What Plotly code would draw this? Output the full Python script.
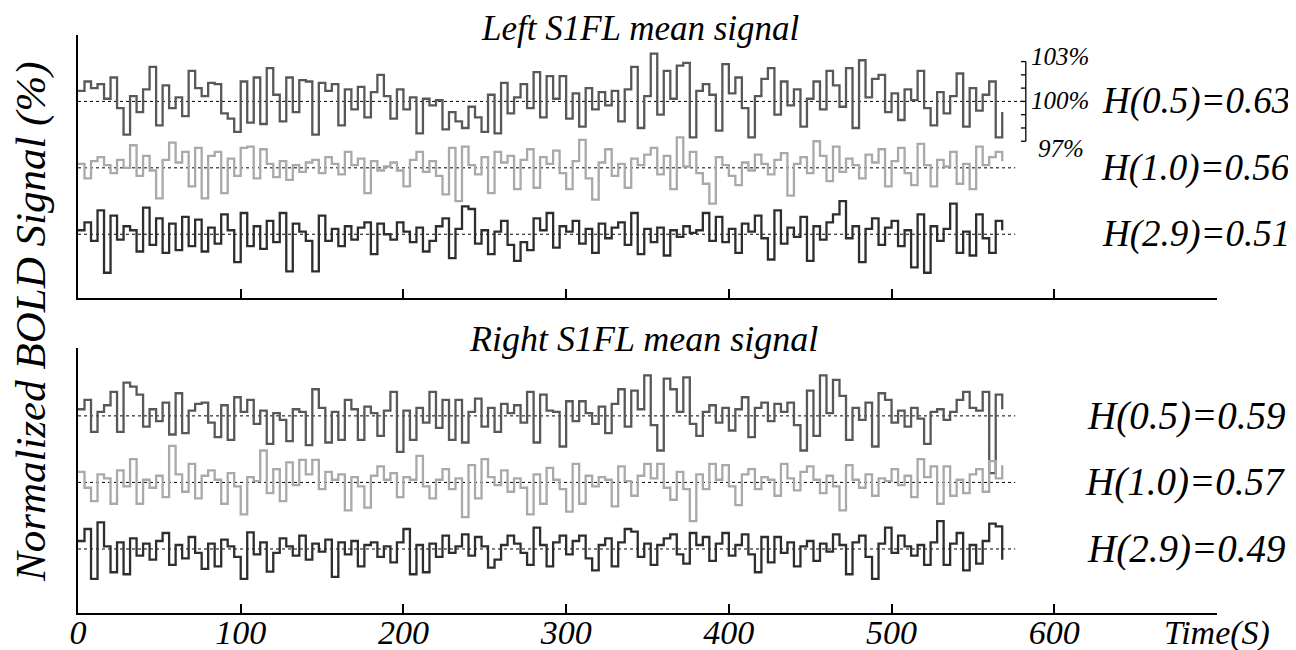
import plotly.graph_objects as go

# ---------------- data (percent deviation from 100%) ----------------
TIME_STEP = 4  # seconds between samples (approximate reading resolution)

left_h05 = [0.8,1.5,1.0,1.3,0.2,1.8,-0.5,-2.5,0.4,-0.8,0.9,2.6,-1.8,1.2,-0.5,0.3,-1.1,2.3,1.0,0.4,
            1.4,1.3,-0.9,-1.3,-2.3,1.5,-1.6,1.8,-1.7,2.5,0.5,-1.5,1.8,-0.8,1.6,1.5,-2.5,1.4,0.8,1.3,
            -1.8,0.9,-0.6,1.1,-1.2,0.7,2.0,0.4,
            -1.3,0.9,-0.6,0.3,-2.4,0.2,-0.3,0.1,-2.1,-0.8,-1.5,-2.0,-0.4,-1.2,-2.3,0.5,-2.4,1.4,-0.9,0.3,
            1.3,-0.5,2.2,-1.2,1.9,0.2,1.9,-1.3,0.6,-1.9,1.0,-0.6,0.7,-0.3,0.8,-1.5,0.9,2.6,-2.0,0.4,
            3.6,-1.0,2.3,0.2,2.7,2.9,-2.7,0.8,
            1.3,0.5,-2.2,2.8,0.6,1.8,-0.5,-2.7,0.4,1.7,2.5,-1.0,1.5,-0.3,0.9,-1.9,0.2,1.5,-0.6,2.3,
            1.2,-0.4,2.5,-2.0,3.1,0.3,1.7,2.0,-0.8,0.6,-1.4,0.9,0.1,2.3,-0.5,-1.8,0.7,-0.9,0.4,2.1,
            -1.9,1.0,-0.7,0.5,1.5,-2.7,-0.8]
left_h10 = [0.3,-0.8,0.5,0.8,0.2,-0.4,0.6,0.0,1.7,-0.6,0.9,-0.2,-2.3,0.6,1.9,0.4,1.2,-1.4,1.5,-2.3,
            0.9,1.2,-1.9,0.7,-0.6,1.5,1.6,-0.8,1.4,0.3,-0.7,0.5,-0.9,0.2,-0.3,0.4,0.6,-0.4,0.8,0.3,
            -0.5,1.2,0.2,0.7,-1.9,0.5,-0.2,0.1,
            0.4,-0.2,-1.4,0.6,1.2,-0.3,0.5,-0.6,-2.0,1.5,-2.5,1.6,0.2,-0.5,0.8,-1.9,1.2,0.4,0.9,-1.6,
            0.6,1.4,-1.5,0.8,0.3,1.3,-0.4,-1.6,0.5,2.1,-0.8,-2.4,0.4,1.4,-0.6,0.3,-1.5,0.7,0.2,1.0,
            1.5,-0.5,0.9,-1.6,2.3,0.1,1.2,-0.4,
            -1.2,-2.7,0.8,0.2,-0.6,-1.3,0.4,-0.2,1.0,0.3,-0.5,0.6,1.1,-2.1,0.3,0.8,-0.4,2.0,0.9,-1.0,
            1.6,-0.3,0.7,0.2,-0.8,1.0,0.4,1.4,-1.4,0.5,1.5,-0.4,-1.3,1.8,0.2,-1.4,0.6,0.1,1.2,-1.2,
            0.3,-1.6,1.6,0.2,0.8,1.2,0.5]
left_h29 = [0.3,0.9,-0.5,1.8,-2.9,1.4,-0.4,0.6,0.3,-1.3,2.0,-0.8,1.2,-1.4,0.8,-1.2,1.3,-0.9,1.1,-1.3,
            0.5,-0.7,1.5,0.3,-2.1,1.6,-0.9,0.6,-1.1,1.0,-0.6,1.6,-2.8,0.8,0.2,-0.5,-2.8,1.4,-0.5,0.4,
            -0.9,0.6,-0.4,0.5,0.9,-1.5,0.8,0.0,
            -0.4,0.9,0.2,-0.6,0.5,-1.3,-0.5,0.6,1.2,-1.8,0.4,2.1,1.9,-0.7,0.3,-1.5,0.2,1.0,-0.8,-2.0,
            -0.6,-1.2,1.2,0.3,1.6,-1.0,0.6,0.2,1.0,-0.7,0.4,-1.4,0.8,-0.3,0.5,0.9,-0.8,1.6,-1.5,0.4,
            -0.6,0.5,-1.6,0.3,-0.2,0.6,0.1,0.3,
            1.6,-0.5,1.3,-0.6,0.4,-1.4,0.8,0.2,1.4,-0.3,-1.9,1.8,-0.7,0.5,-0.2,1.3,-2.0,0.6,-0.4,0.9,
            1.5,2.5,-0.3,0.6,-2.1,0.4,1.2,-0.8,0.5,1.0,-0.9,0.3,-2.5,1.5,-2.9,0.6,-0.5,0.4,2.3,-1.4,
            0.2,-1.6,1.5,-0.3,-1.4,1.0,0.3]

right_h05 = [0.5,1.2,-1.2,0.3,0.8,1.8,-1.2,2.5,2.2,1.6,-0.8,0.5,-0.4,1.0,-1.4,1.7,-1.3,0.4,0.9,1.0,
             -0.5,-1.6,0.8,-1.8,1.4,0.3,1.2,-0.6,0.4,-2.1,0.2,-0.3,-1.9,0.5,0.3,-2.2,2.0,0.6,-2.0,0.3,
             -1.8,1.2,0.5,-1.8,0.7,0.2,-1.5,0.4,
             1.8,-2.7,0.4,-1.8,0.6,-0.5,1.8,-0.9,1.2,-1.8,1.2,-2.0,0.3,1.3,-0.8,0.6,-1.2,0.9,0.2,0.8,
             -0.5,1.8,-2.0,1.6,0.4,0.3,-2.3,1.1,-0.4,1.1,0.2,-0.6,0.7,-1.3,0.9,2.0,-0.8,1.9,0.5,3.05,
             -0.7,-2.6,2.8,2.0,0.3,2.9,-0.6,-1.5,
             0.3,0.8,-0.5,0.6,-1.1,0.5,1.4,-1.6,0.6,1.0,-0.4,0.9,0.3,1.0,-0.7,-2.6,1.9,-1.5,3.05,0.2,
             2.7,1.5,-1.8,0.6,-0.3,1.0,-2.3,1.7,1.2,-0.5,0.4,-0.8,0.6,-0.2,-2.1,0.3,0.5,-0.3,0.3,1.2,
             1.8,0.6,0.4,1.8,-4.3,1.6,0.5]
right_h10 = [0.8,-0.4,-1.4,0.6,0.3,-1.6,0.9,-0.3,1.75,-1.6,0.2,-0.4,0.5,-1.1,2.75,0.6,-0.7,1.4,-1.2,0.5,
             0.9,0.2,-1.6,0.7,-0.3,-2.4,0.4,0.1,2.4,-0.8,1.0,-1.4,1.5,-0.2,1.7,0.6,1.7,-0.5,0.8,0.2,
             0.6,-2.1,0.4,-0.3,-1.9,0.5,1.2,0.2,
             0.7,-1.1,0.4,0.2,2.0,-0.3,-1.2,0.2,1.0,-0.5,0.3,-2.6,1.3,-1.2,1.75,0.4,-0.2,0.9,-0.7,0.3,
             -0.4,-2.4,0.6,-1.6,1.1,0.2,-0.5,-2.2,1.4,-1.6,0.5,-0.3,0.4,0.2,-1.8,1.2,0.1,-1.0,0.5,1.4,
             0.3,1.4,-0.4,-1.3,0.8,-0.5,-2.9,0.6,
             -0.5,1.4,0.2,1.3,-0.3,-1.7,0.6,1.0,-0.5,0.4,0.2,-1.0,1.4,0.3,-0.6,0.8,1.2,0.2,-0.8,0.5,
             -0.3,-2.1,1.3,0.2,-0.4,0.6,-1.0,0.3,0.1,1.0,-0.2,0.5,-1.1,1.75,0.4,1.2,-1.6,1.2,-1.0,0.2,
             -0.8,0.6,1.0,-0.7,1.6,0.3,1.3]
right_h29 = [0.6,1.5,-2.25,2.0,0.2,-1.75,0.5,-1.9,0.8,-0.5,0.4,-0.8,0.6,1.2,-1.2,0.3,-0.7,0.9,-0.3,-1.5,
             0.4,-1.3,0.7,0.2,-0.6,-2.25,1.25,-0.4,0.5,-1.7,-0.3,0.8,0.2,-0.5,1.0,-0.8,0.4,-0.2,0.7,-2.1,
             0.5,-0.4,0.6,-1.3,0.3,0.5,-0.6,0.2,
             -1.0,0.5,1.5,-1.9,0.3,-1.75,0.4,-0.6,1.0,-0.3,0.2,1.1,-0.5,0.9,0.2,-1.4,-0.8,0.3,1.0,0.4,
             -0.3,-1.2,1.6,0.3,-1.3,0.5,1.0,-0.4,0.6,1.0,-0.7,-1.6,0.3,0.8,-1.3,0.5,1.5,1.3,-0.6,0.4,
             -1.2,0.3,0.8,1.1,-0.4,-1.1,1.2,0.3,
             0.9,-0.9,0.4,1.2,-0.5,0.3,1.1,-0.4,-1.75,0.9,-1.0,0.9,-0.3,0.5,-1.3,0.2,0.6,-0.9,0.4,-0.2,
             1.1,0.3,-1.9,0.5,1.0,-0.6,-2.25,0.4,1.6,-0.3,1.0,0.2,-0.5,0.3,-1.2,0.5,2.1,-1.2,0.4,1.2,
             -1.6,0.3,-1.1,0.6,1.9,1.7,-0.8]

series_names = ["H(0.5)", "H(1.0)", "H(2.9)"]
left_hurst = ["0.63", "0.56", "0.51"]
right_hurst = ["0.59", "0.57", "0.49"]
panel_titles = ["Left S1FL mean signal", "Right S1FL mean signal"]
x_tick_values = [0, 100, 200, 300, 400, 500, 600, 700]
x_tick_labels = ["0", "100", "200", "300", "400", "500", "600", "Time(S)"]
scale_labels = ["103%", "100%", "97%"]

# ---------------- styling ----------------
W, H = 1296, 650
OFF = 8                        # page body margin
FW, FH = W - OFF, H - OFF      # figure size
COLORS = ["#585858", "#a9a9a9", "#2e2e2e"]
OFFSETS = [10, 5, 0]          # vertical offsets (in %) of the three traces
FONT = "Liberation Serif"

def px_x(p):
    return (p - OFF) / FW

def px_y(p):
    return 1 - (p - OFF) / FH

fig = go.Figure()

panels = [
    ("x", "y", [left_h05, left_h10, left_h29]),
    ("x2", "y2", [right_h05, right_h10, right_h29]),
]

for pi, (xa, ya, data) in enumerate(panels):
    for si, vals in enumerate(data):
        times = [i * TIME_STEP for i in range(len(vals))]
        end = 582 if (pi == 0 and si == 0) else 576
        fig.add_trace(go.Scatter(
            x=[0, end], y=[OFFSETS[si], OFFSETS[si]], mode="lines",
            line=dict(color="black", width=1, dash="dot"),
            xaxis=xa, yaxis=ya, showlegend=False, hoverinfo="skip"))
        fig.add_trace(go.Scatter(
            x=times, y=[v + OFFSETS[si] for v in vals], mode="lines",
            line=dict(color=COLORS[si], width=2.3, shape="hv"),
            xaxis=xa, yaxis=ya, showlegend=False, name=series_names[si]))

# scale bar (103% .. 97%) next to the top trace of the left panel
bar_x = 582.5
tick_len = 3.0
bx, by = [bar_x, bar_x], [OFFSETS[0] + 3, OFFSETS[0] - 3]
for d in range(-3, 4):
    bx += [None, bar_x - tick_len, bar_x]
    by += [None, OFFSETS[0] + d, OFFSETS[0] + d]
fig.add_trace(go.Scatter(x=bx, y=by, mode="lines", line=dict(color="black", width=1.3),
                         xaxis="x", yaxis="y", showlegend=False, hoverinfo="skip"))

axis_common = dict(showgrid=False, zeroline=False, showline=True, linecolor="black",
                   linewidth=2, ticks="inside", tickcolor="black", tickwidth=2,
                   automargin=False)

x_dom = [px_x(78), px_x(1217)]
fig.update_layout(
    width=FW, height=FH, margin=dict(l=0, r=0, t=0, b=0, pad=0), autosize=False,
    plot_bgcolor="white", paper_bgcolor="white", showlegend=False,
    xaxis=dict(domain=x_dom, range=[0, 700], anchor="y", tickvals=x_tick_values[1:],
               ticklen=9, showticklabels=False, **axis_common),
    yaxis=dict(domain=[px_y(298), px_y(35)], range=[-4.8, 15.0], anchor="x",
               tickvals=[15.0], ticklen=6, showticklabels=False, **axis_common),
    xaxis2=dict(domain=x_dom, range=[0, 700], anchor="y2", tickvals=x_tick_values,
                ticktext=x_tick_labels, ticklen=9, showticklabels=True,
                ticklabelstandoff=-12,
                tickfont=dict(family=FONT, size=34, style="italic", color="black"),
                **axis_common),
    yaxis2=dict(domain=[px_y(613), px_y(348)], range=[-4.81, 15.1], anchor="x2",
                tickvals=[15.1], ticklen=6, showticklabels=False, **axis_common),
)

ann = []
italic = lambda s: dict(family=FONT, size=s, style="italic", color="black")
ann.append(dict(text=panel_titles[0], x=px_x(640), y=px_y(29), xref="paper", yref="paper",
                xanchor="center", yanchor="middle", showarrow=False, font=italic(35)))
ann.append(dict(text=panel_titles[1], x=px_x(643), y=px_y(339), xref="paper", yref="paper",
                xanchor="center", yanchor="middle", showarrow=False, font=italic(36)))
for si in range(3):
    ann.append(dict(text=f"{series_names[si]}={left_hurst[si]}", x=px_x(1292),
                    y=OFFSETS[si], xref="paper", yref="y", xanchor="right", yanchor="middle",
                    showarrow=False, font=italic(37)))
    ann.append(dict(text=f"{series_names[si]}={right_hurst[si]}", x=px_x(1287),
                    y=OFFSETS[si], xref="paper", yref="y2", xanchor="right", yanchor="middle",
                    showarrow=False, font=italic(39)))
for lab, yy, xx in zip(scale_labels, [57, 101, 149], [1029, 1029, 1036]):
    ann.append(dict(text=lab, x=px_x(xx), y=px_y(yy), xref="paper", yref="paper",
                    xanchor="left", yanchor="middle", showarrow=False, font=italic(25)))
ann.append(dict(text="Normalized BOLD Signal (%)", x=px_x(31), y=px_y(322), xref="paper",
                yref="paper", xanchor="center", yanchor="middle", textangle=-90,
                showarrow=False, font=italic(43)))
fig.update_layout(annotations=ann)

fig.write_html("out.html")
